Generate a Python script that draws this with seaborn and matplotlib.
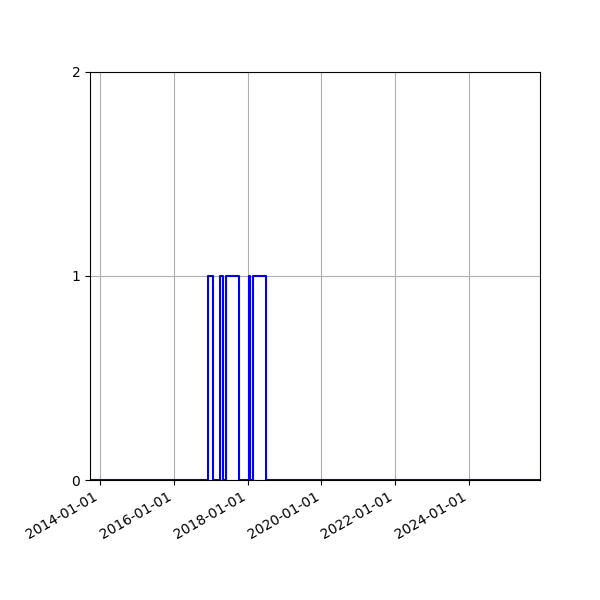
import matplotlib
matplotlib.use("Agg")
import matplotlib.pyplot as plt
import matplotlib.dates as mdates
import pandas as pd
import seaborn as sns

# transition dates (steps-post) and the value held from each date on
dates = ["2013-09-24", "2016-11-30", "2017-01-28", "2017-03-31", "2017-04-28",
         "2017-06-01", "2017-10-04", "2018-01-18", "2018-01-28", "2018-02-21",
         "2018-07-02", "2025-12-04"]
values = [0, 1, 0, 1, 0, 1, 0, 1, 0, 1, 0, 0]
y_ticks = [0, 1, 2]

df = pd.DataFrame({"date": pd.to_datetime(dates), "value": values})

fig = plt.figure(figsize=(6, 6), dpi=100)
ax = fig.add_axes([0.15, 0.2, 0.75, 0.68])
sns.lineplot(data=df, x="date", y="value", ax=ax, drawstyle="steps-post",
             color="blue", linewidth=1.5, estimator=None)

ax.set_xlim(df["date"].iloc[0], df["date"].iloc[-1])
ax.set_ylim(0, 2)
ax.set_yticks(y_ticks)
ax.set_yticklabels([str(t) for t in y_ticks])
ax.xaxis.set_major_locator(mdates.YearLocator(2))
ax.xaxis.set_major_formatter(mdates.DateFormatter("%Y-%m-%d"))
ax.grid(True, color="#b0b0b0", linewidth=0.8)
ax.set_axisbelow(True)
ax.set_xlabel("")
ax.set_ylabel("")
for lbl in ax.get_xticklabels():
    lbl.set_rotation(30)
    lbl.set_ha("right")

fig.savefig("out.png", dpi=100)
